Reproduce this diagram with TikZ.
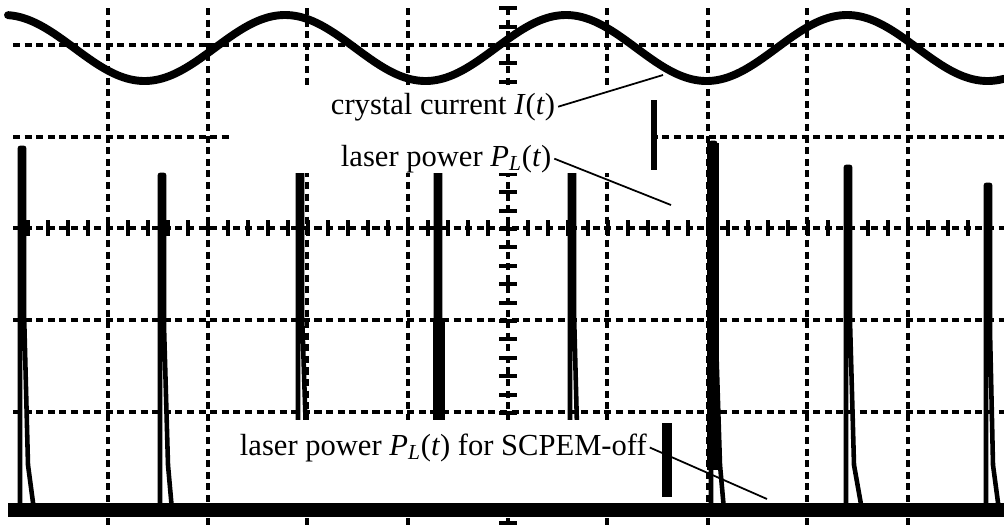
\documentclass[tikz,border=0pt]{standalone}
\usepackage{fontspec}
\setmainfont{Liberation Serif}
\usetikzlibrary{positioning}

\begin{document}
\begin{tikzpicture}
  [
    x=0.02cm, y=-0.02cm,
    Grid/.style={draw=black, line width=2pt, dash pattern=on 4pt off 2.6pt},
    Tick/.style={draw=black, line width=2.2pt},
    Trace/.style={draw=black, line width=4.5pt, line cap=round, line join=round},
    Base/.style={draw=black, line width=8pt},
    Spike/.style={draw=black, line width=2.6pt, line join=round},
    Mask/.style={fill=white},
    Edge/.style={draw=black, line width=3pt},
    Lead/.style={draw=black, line width=1pt},
    Label/.style={font=\fontsize{17.4}{20}\selectfont, inner sep=1.5pt, anchor=base west}
  ]
  \fill[white] (0,0) rectangle (1004,525);
  \useasboundingbox (0,0) rectangle (1004,525);
  % Grid
  \foreach \gx in {108,208,307,408,508,607,708,807,908}
    \draw[Grid] (\gx,8) -- (\gx,525);
  \foreach \gy in {45,137,228,320,412}
    \draw[Grid] (13,\gy) -- (1004,\gy);
  % Ticks on the centre axes
  \foreach \tx in {28,48,...,1000}
    \draw[Tick] (\tx,220) -- (\tx,236);
  \foreach \k in {-2,...,26}
    \draw[Tick] (499,{45+18.4*\k}) -- (517,{45+18.4*\k});
  % Pulses
  \foreach \c/\t/\a/\b in {22/148/6/12, 162/175/6/10, 300/150/7/10, 438/170/5/9,
                            572/150/6/9, 713/143/7/11, 848/167/6/14, 988/185/5/11}
    \path[Spike] (\c-2,510) -- (\c-2,\t) -- (\c+2,\t) -- (\c+2,{\t+0.45*(510-\t)})
      -- (\c+\a,465) -- (\c+\b,510);
  \fill (433,320) rectangle (445,420);
  \fill (707,143) rectangle (719,470);
  % Crystal current
  \draw[Trace] plot[domain=8:1004, samples=220, smooth] (\x,{48-33*cos(1.2811*(\x-285))});
  \draw[Base] (8,510) -- (1004,510);
  % Label boxes
  \path[Mask] (230,86) rectangle (654,173);
  \path[Mask] (230,420) rectangle (664,503);
  \draw[Edge] (654,100) -- (654,170);
  \draw[line width=5.5pt] (667,423) -- (667,497);
  % Nodes
  \node[Label] (current) at (328,114) {crystal current \textit{I}(\textit{t})};
  \node[Label] (power) at (338,166) {laser power \textit{P}\textsubscript{\textit{L}}(\textit{t})};
  \node[Label] (poweroff) at (237,455) {laser power \textit{P}\textsubscript{\textit{L}}(\textit{t}) for SCPEM-off};
  \coordinate (currentend) at (663,75);
  \coordinate (powerend) at (671,205);
  \coordinate (poweroffend) at (767,499);
  % Lines
  \path[Lead] (current.east) -- (currentend);
  \path[Lead] (power.east) -- (powerend);
  \path[Lead] (poweroff.east) -- (poweroffend);
\end{tikzpicture}
\end{document}
